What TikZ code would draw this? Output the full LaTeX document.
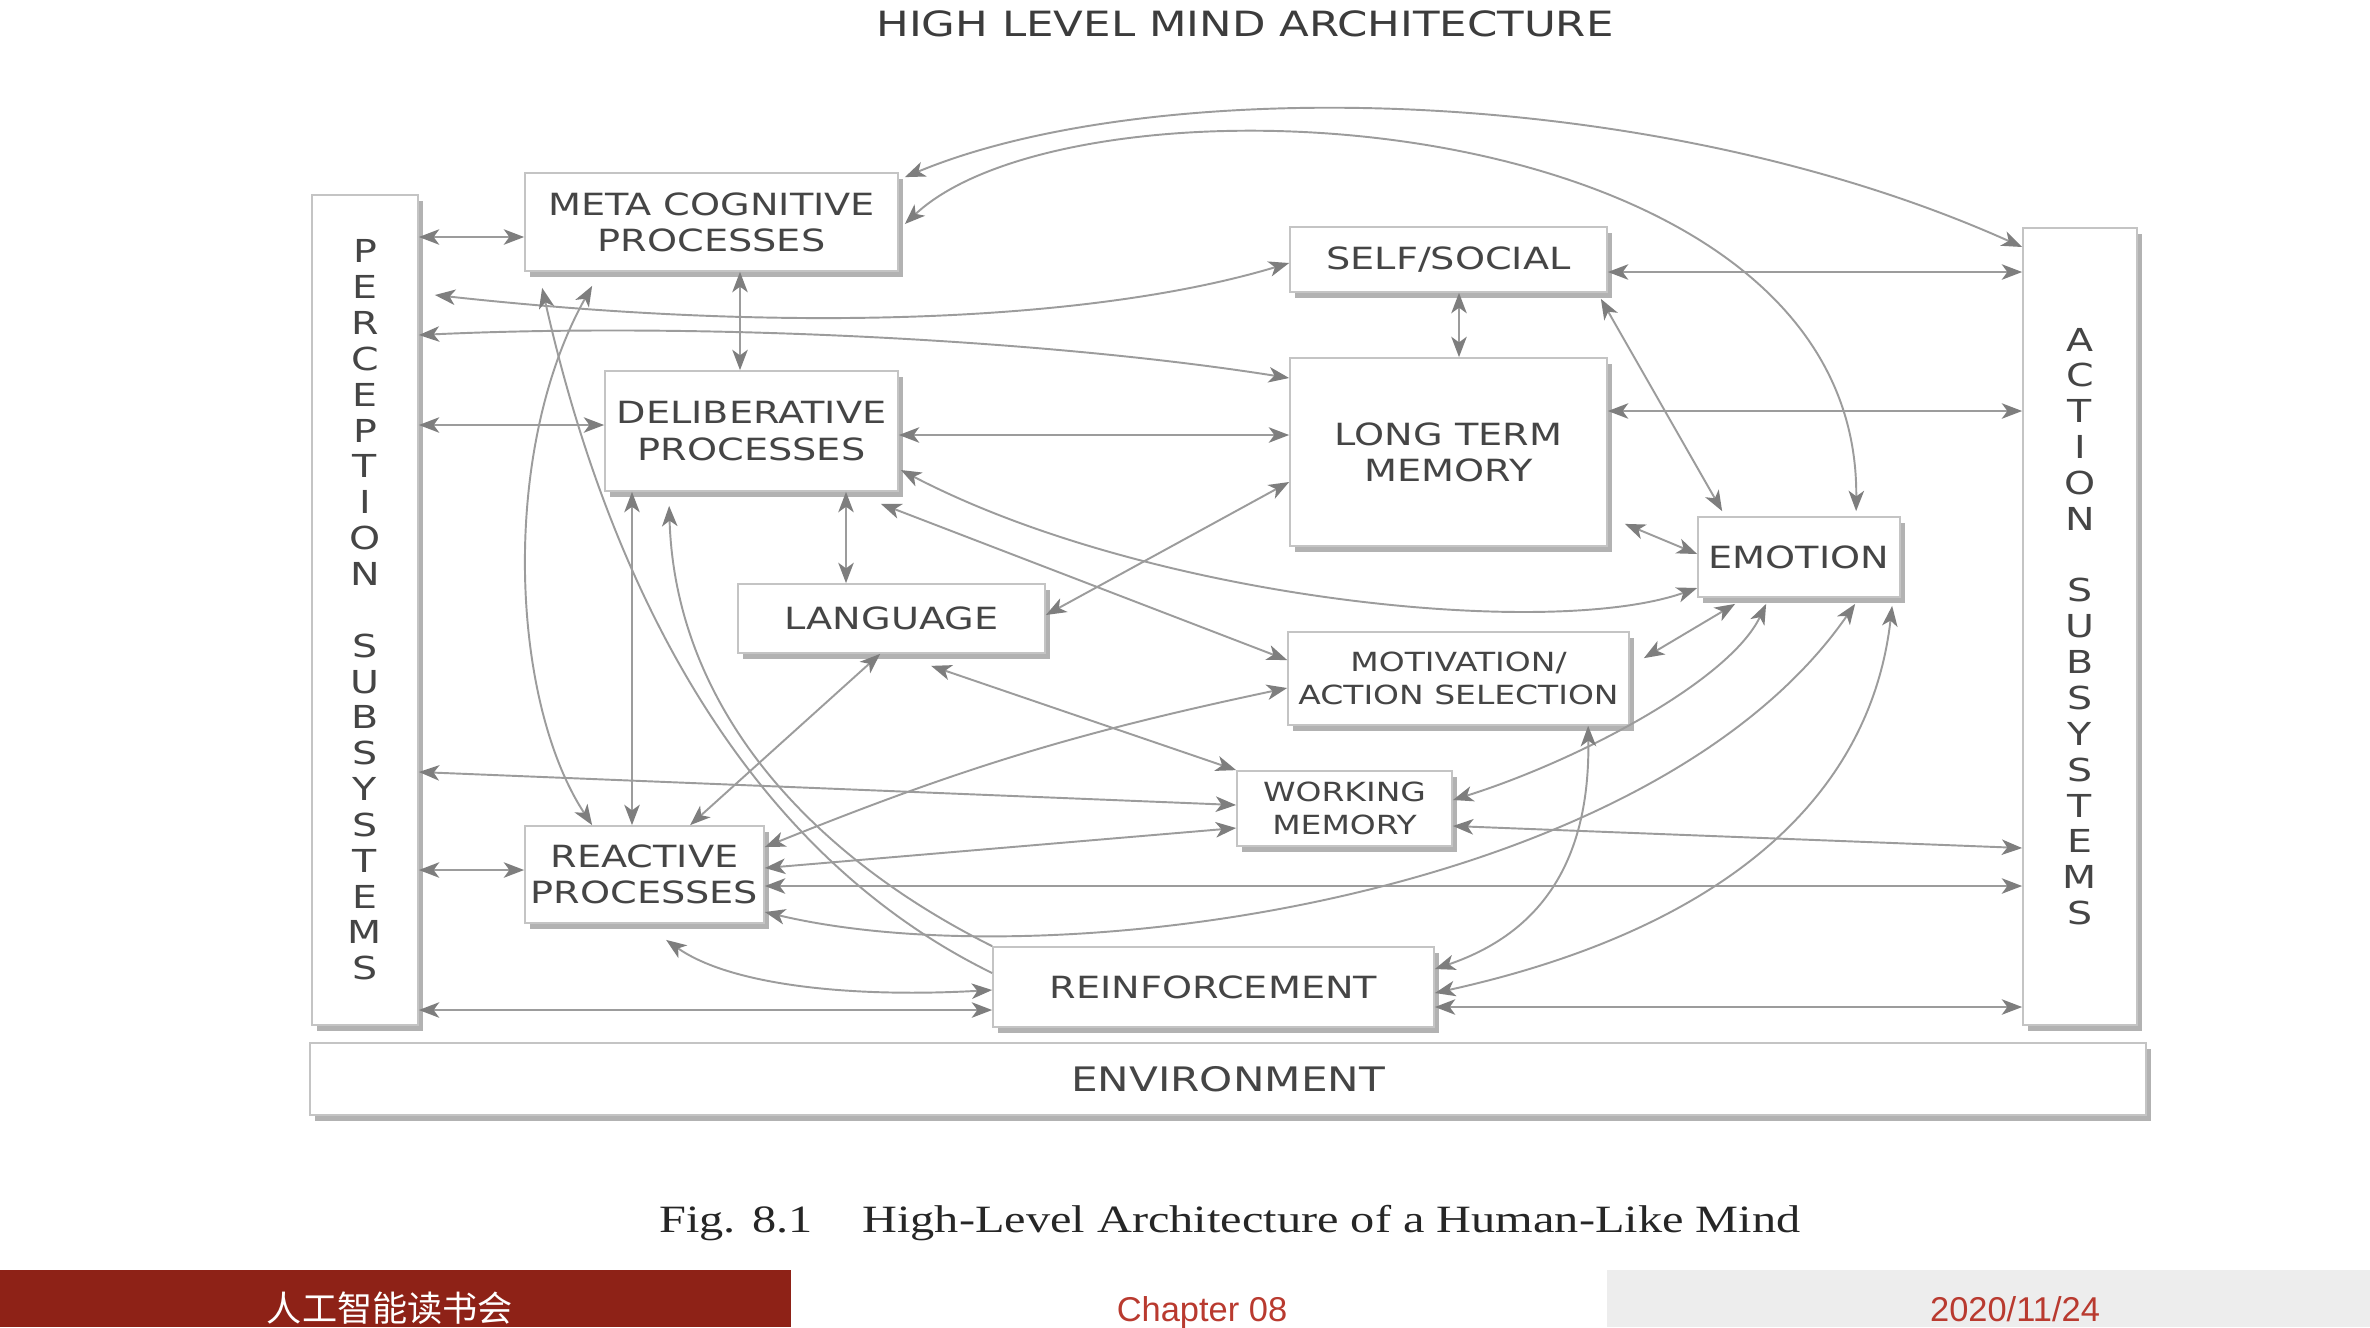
\documentclass[tikz,border=0pt]{standalone}
\usepackage{fontspec}
\usetikzlibrary{arrows.meta,shadows,calc}
\newfontfamily\boxfont[FakeStretch=1.25]{DejaVu Sans}
\newfontfamily\capfont[FakeStretch=1.25]{Liberation Serif}
\newfontfamily\footfont{Liberation Sans}
\newfontfamily\cjkfont{Noto Sans CJK SC}
\definecolor{boxline}{HTML}{C4C4C4}
\definecolor{boxtext}{HTML}{454545}
\definecolor{wirecol}{HTML}{9C9C9C}
\definecolor{tipcol}{HTML}{7E7E7E}
\definecolor{titletext}{HTML}{3C3C3C}
\definecolor{footred}{HTML}{8E2217}
\definecolor{footgray}{HTML}{EDEDED}
\definecolor{datered}{HTML}{B93A2F}

\begin{document}
\begin{tikzpicture}[
    block/.style={draw=boxline, fill=white, line width=0.5pt, inner sep=0pt, align=center,
      text=boxtext, font=\boxfont\fontsize{8.7}{10.3}\selectfont,
      drop shadow={shadow xshift=1.4pt, shadow yshift=-1.7pt, fill=black!55, opacity=0.55}},
    smallblock/.style={block, font=\boxfont\fontsize{7.5}{9.2}\selectfont},
    column/.style={block, font=\boxfont\fontsize{9}{10.2}\selectfont},
    wire/.style={draw=wirecol, line width=0.55pt},
    both/.style={wire, <->},
    back/.style={wire, <-},
    >={Stealth[length=5.8pt, width=4.4pt, inset=1.6pt, color=tipcol]},
  ]

  \useasboundingbox[fill=white] (0,0) rectangle (23.7,-13.27);

  % ---- heading
  \node[anchor=base, font=\boxfont\fontsize{9.9}{12}\selectfont, text=titletext] (title)
    at (12.45,-0.36) {HIGH LEVEL MIND ARCHITECTURE};

  % ---- the two subsystem columns and the environment
  \node[column, minimum width=1.06cm, minimum height=8.30cm] (perc) at (3.65,-6.10)
    {P\\E\\R\\C\\E\\P\\T\\I\\O\\N\\[10.2pt]S\\U\\B\\S\\Y\\S\\T\\E\\M\\S};
  \node[column, minimum width=1.14cm, minimum height=7.97cm] (act) at (20.80,-6.265)
    {A\\C\\T\\I\\O\\N\\[10.2pt]S\\U\\B\\S\\Y\\S\\T\\E\\M\\S};
  \node[block, minimum width=18.36cm, minimum height=0.72cm, font=\boxfont\fontsize{9.6}{11}\selectfont]
    (env) at (12.28,-10.79) {ENVIRONMENT};

  % ---- the processes
  \node[block, minimum width=3.73cm, minimum height=0.98cm] (meta)  at (7.115,-2.22)  {META COGNITIVE\\PROCESSES};
  \node[block, minimum width=2.93cm, minimum height=1.20cm] (delib) at (7.515,-4.31)  {DELIBERATIVE\\PROCESSES};
  \node[block, minimum width=3.17cm, minimum height=0.65cm] (self)  at (14.485,-2.595) {SELF/SOCIAL};
  \node[block, minimum width=3.17cm, minimum height=1.88cm] (ltm)   at (14.485,-4.52)  {LONG TERM\\MEMORY};
  \node[block, minimum width=2.02cm, minimum height=0.80cm] (emo)   at (17.99,-5.57)   {EMOTION};
  \node[block, minimum width=3.07cm, minimum height=0.69cm] (lang)  at (8.915,-6.185)  {LANGUAGE};
  \node[smallblock, minimum width=3.41cm, minimum height=0.93cm] (motiv) at (14.585,-6.785) {MOTIVATION/\\ACTION SELECTION};
  \node[smallblock, minimum width=2.15cm, minimum height=0.75cm] (wm)    at (13.445,-8.085) {WORKING\\MEMORY};
  \node[block, minimum width=2.39cm, minimum height=0.97cm] (react) at (6.445,-8.745)  {REACTIVE\\PROCESSES};
  \node[block, minimum width=4.41cm, minimum height=0.80cm] (reinf) at (12.135,-9.87)  {REINFORCEMENT};

  % ---- links to perception
  \draw[both] (perc.east |- 0,-2.37) -- (meta.west |- 0,-2.37);
  \draw[both] ($(perc.east |- 0,-2.95)+(0.16,0)$) .. controls (8,-3.35) and (11,-3.2) .. (self.west |- 0,-2.63);
  \draw[both] (perc.east |- 0,-3.35) .. controls (7,-3.22) and (10.5,-3.4) .. (ltm.west |- 0,-3.78);
  \draw[both] (perc.east |- 0,-4.25) -- (delib.west |- 0,-4.25);
  \draw[both] (perc.east |- 0,-7.72) -- (wm.west |- 0,-8.05);
  \draw[both] (perc.east |- 0,-8.70) -- (react.west |- 0,-8.70);
  \draw[both] (perc.east |- 0,-10.10) -- (reinf.west |- 0,-10.10);

  % ---- links to action
  \draw[both] ($(meta.north east)+(0.06,-0.05)$) .. controls (11.5,-0.75) and (16.5,-0.8) .. (act.west |- 0,-2.47);
  \draw[both] (self.east |- 0,-2.72) -- (act.west |- 0,-2.72);
  \draw[both] (ltm.east |- 0,-4.11) -- (act.west |- 0,-4.11);
  \draw[both] (wm.east |- 0,-8.26) -- (act.west |- 0,-8.48);
  \draw[both] (react.east |- 0,-8.86) -- (act.west |- 0,-8.86);
  \draw[both] (reinf.east |- 0,-10.07) -- (act.west |- 0,-10.07);

  % ---- links between the processes
  \draw[both] (7.40,0 |- meta.south) -- (7.40,0 |- delib.north);
  \draw[both] (14.59,0 |- self.south) -- (14.59,0 |- ltm.north);
  \draw[both] (delib.east |- 0,-4.35) -- (ltm.west |- 0,-4.35);
  \draw[both] (6.32,0 |- delib.south) -- (6.32,0 |- react.north);
  \draw[both] (8.46,0 |- delib.south) -- (8.46,0 |- lang.north);
  \draw[both] ($(meta.east |- 0,-2.24)+(0.06,0)$) .. controls (10.8,-0.6) and (18.6,-1.0) .. ($(emo.north west)+(1.59,0.05)$);
  \draw[both] ($(self.south east)+(-0.07,-0.06)$) -- ($(emo.north west)+(0.25,0.05)$);
  \draw[both] ($(ltm.south east)+(0.17,0.23)$) -- (emo.west |- 0,-5.54);
  \draw[both] ($(delib.east |- 0,-4.70)+(0.02,0)$) .. controls (11.5,-6.0) and (15.5,-6.4) .. (emo.west |- 0,-5.88);
  \draw[both] ($(delib.south east)+(-0.18,-0.12)$) -- (motiv.west |- 0,-6.60);
  \draw[both] ($(meta.south west)+(0.68,-0.14)$) .. controls (5.0,-4.5) and (5.1,-7.0) .. ($(react.north west)+(0.68,0)$);
  \draw[back] ($(meta.south west)+(0.18,-0.16)$) .. controls (5.9,-5.0) and (7.0,-8.3) .. (reinf.west |- 0,-9.73);
  \draw[back] ($(delib.south west)+(0.65,-0.14)$) .. controls (6.75,-7.0) and (8.0,-8.5) .. (reinf.north west);
  \draw[both] ($(lang.south west)+(1.43,0)$) -- ($(react.north west)+(1.66,0)$);
  \draw[both] (lang.east |- 0,-6.15) -- (ltm.west |- 0,-4.82);
  \draw[both] ($(lang.south west)+(1.94,-0.12)$) -- (wm.north west);
  \draw[both] (react.east |- 0,-8.47) to[bend left=5] (motiv.west |- 0,-6.88);
  \draw[both] (react.east |- 0,-8.68) -- (wm.west |- 0,-8.28);
  \draw[both] (react.east |- 0,-9.12) .. controls (10.5,-9.8) and (16.5,-9.0) .. ($(emo.south west)+(1.58,-0.06)$);
  \draw[both] ($(react.south west)+(1.42,-0.16)$) .. controls (7.3,-9.85) and (8.5,-9.98) .. (reinf.west |- 0,-9.90);
  \draw[both] (wm.east |- 0,-8.00) .. controls (15.8,-7.6) and (17.3,-6.8) .. ($(emo.south west)+(0.69,-0.06)$);
  \draw[both] ($(motiv.north east)+(0.14,-0.27)$) -- ($(emo.south west)+(0.38,-0.06)$);
  \draw[both] (reinf.east |- 0,-9.93) .. controls (17.2,-9.3) and (18.7,-8.0) .. ($(emo.south west)+(1.95,-0.08)$);
  \draw[both] ($(motiv.south west)+(3.01,0)$) .. controls (15.9,-8.5) and (15.5,-9.3) .. (reinf.east |- 0,-9.69);

  % ---- figure caption
  \node[anchor=base, font=\capfont\fontsize{11}{13}\selectfont, text=black!85] (caption)
    at (12.30,-12.32) {Fig. 8.1\hspace{0.5cm}High-Level Architecture of a Human-Like Mind};

  % ---- slide footer
  \fill[footred] (0,-12.70) rectangle (7.91,-13.27);
  \fill[footgray] (16.07,-12.70) rectangle (23.7,-13.27);
  \node[anchor=base, font=\cjkfont\fontsize{10}{12}\selectfont, text=white] (club) at (3.90,-13.21) {人工智能读书会};
  \node[anchor=base, font=\footfont\fontsize{9.8}{12}\selectfont, text=datered] (chapter) at (12.02,-13.21) {Chapter 08};
  \node[anchor=base, font=\footfont\fontsize{9.8}{12}\selectfont, text=datered] (date) at (20.15,-13.21) {2020/11/24};

\end{tikzpicture}
\end{document}
